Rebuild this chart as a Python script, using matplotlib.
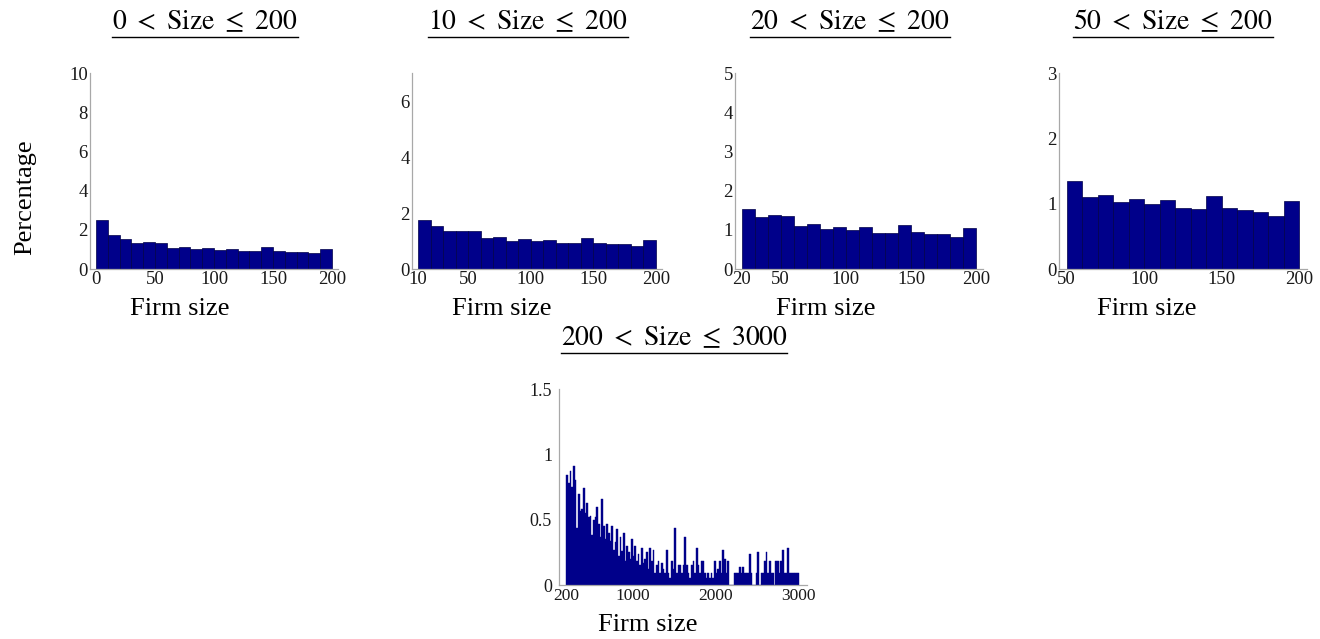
import matplotlib
matplotlib.use("Agg")
import matplotlib.pyplot as plt
from matplotlib.lines import Line2D

# ---------------- data ----------------
p1_edges = list(range(0, 200, 10))
p1_vals = [2.52, 1.73, 1.51, 1.33, 1.38, 1.33, 1.09, 1.12, 1.00, 1.05,
           0.97, 1.04, 0.92, 0.90, 1.11, 0.94, 0.88, 0.87, 0.80, 1.04]

p2_edges = list(range(10, 200, 10))
p2_vals = [1.74, 1.54, 1.34, 1.36, 1.35, 1.09, 1.15, 1.01, 1.07, 0.99,
           1.05, 0.94, 0.93, 1.11, 0.94, 0.91, 0.89, 0.82, 1.04]

p3_edges = list(range(20, 200, 10))
p3_vals = [1.54, 1.33, 1.37, 1.36, 1.09, 1.14, 1.02, 1.08, 0.99, 1.07,
           0.93, 0.92, 1.12, 0.95, 0.90, 0.89, 0.82, 1.04]

p4_edges = list(range(50, 200, 10))
p4_vals = [1.35, 1.10, 1.14, 1.02, 1.07, 0.99, 1.06, 0.93, 0.92, 1.12,
           0.94, 0.90, 0.88, 0.81, 1.04]

p5_edges = list(range(200, 3000, 20))
p5_vals = [0.84, 0.78, 0.87, 0.75, 0.91, 0.80, 0.44, 0.70, 0.57, 0.58,
           0.74, 0.55, 0.63, 0.52, 0.53, 0.38, 0.50, 0.52, 0.60, 0.47,
           0.37, 0.66, 0.45, 0.35, 0.47, 0.40, 0.34, 0.45, 0.27, 0.33,
           0.43, 0.22, 0.37, 0.26, 0.40, 0.18, 0.30, 0.25, 0.20, 0.35,
           0.22, 0.30, 0.18, 0.24, 0.15, 0.28, 0.17, 0.20, 0.25, 0.12,
           0.28, 0.18, 0.27, 0.09, 0.15, 0.18, 0.09, 0.17, 0.12, 0.09,
           0.27, 0.09, 0.05, 0.18, 0.12, 0.44, 0.09, 0.15, 0.15, 0.09,
           0.15, 0.37, 0.15, 0.09, 0.05, 0.15, 0.18, 0.09, 0.28, 0.15,
           0.09, 0.18, 0.18, 0.09, 0.05, 0.09, 0.05, 0.09, 0.05, 0.18,
           0.09, 0.12, 0.18, 0.09, 0.27, 0.20, 0.09, 0.18, 0.00, 0.00,
           0.00, 0.09, 0.09, 0.09, 0.14, 0.09, 0.14, 0.09, 0.09, 0.09,
           0.24, 0.09, 0.00, 0.00, 0.09, 0.25, 0.00, 0.09, 0.09, 0.18,
           0.25, 0.09, 0.18, 0.09, 0.09, 0.00, 0.18, 0.18, 0.09, 0.18,
           0.27, 0.09, 0.09, 0.28, 0.09, 0.09, 0.09, 0.09, 0.09, 0.09]

titles = [r"$0\ <\ \mathrm{Size}\ \leq\ 200$", r"$10\ <\ \mathrm{Size}\ \leq\ 200$",
          r"$20\ <\ \mathrm{Size}\ \leq\ 200$", r"$50\ <\ \mathrm{Size}\ \leq\ 200$",
          r"$200\ <\ \mathrm{Size}\ \leq\ 3000$"]
xticks = [[0, 50, 100, 150, 200], [10, 50, 100, 150, 200],
          [20, 50, 100, 150, 200], [50, 100, 150, 200],
          [200, 1000, 2000, 3000]]
yticks = [[0, 2, 4, 6, 8, 10], [0, 2, 4, 6], [0, 1, 2, 3, 4, 5],
          [0, 1, 2, 3], [0, 0.5, 1, 1.5]]
ylims = [10, 7, 5, 3, 1.5]
xlims = [(-5, 205), (5, 205), (15, 205), (45, 205), (110, 3100)]
bin_widths = [10, 10, 10, 10, 20]
xlabel = "Firm size"
ylabel = "Percentage"

# ---------------- layout ----------------
W, H = 1320, 639
plt.rcParams["mathtext.fontset"] = "stix"
plt.rcParams["font.family"] = ["Liberation Serif", "DejaVu Serif"]
fig = plt.figure(figsize=(W / 100, H / 100), dpi=100)

# axes boxes in pixels: left, right, top, bottom
boxes = [(90, 338, 73, 269), (412, 662, 73, 269), (735, 983, 73, 269),
         (1059, 1307, 73, 269), (559, 807, 389, 585)]
title_pos = [(205, 29.5), (528, 29.5), (850, 29.5), (1173, 29.5), (674, 345.5)]
xlabel_pos = [(180, 309), (502, 309), (826, 309), (1147, 309), (648, 625)]

edges_all = [p1_edges, p2_edges, p3_edges, p4_edges, p5_edges]
vals_all = [p1_vals, p2_vals, p3_vals, p4_vals, p5_vals]

bar_color = "#00008a"
spine_color = "#a8a8a8"
title_texts = []
for i in range(5):
    l, r, t, b = boxes[i]
    ax = fig.add_axes([l / W, 1 - b / H, (r - l) / W, (b - t) / H])
    if i < 4:
        ax.bar(edges_all[i], vals_all[i], width=bin_widths[i], align="edge",
               color=bar_color, edgecolor="#000048", linewidth=0.5)
    else:
        ax.bar(edges_all[i], vals_all[i], width=bin_widths[i], align="edge",
               color=bar_color, edgecolor=bar_color, linewidth=0.3)
    ax.set_xlim(*xlims[i])
    ax.set_ylim(0, ylims[i])
    ax.set_xticks(xticks[i])
    ax.set_yticks(yticks[i])
    ax.set_yticklabels(["%g" % v for v in yticks[i]])
    for s in ["top", "right"]:
        ax.spines[s].set_visible(False)
    for s in ["left", "bottom"]:
        ax.spines[s].set_color(spine_color)
        ax.spines[s].set_linewidth(0.9)
    ax.tick_params(length=0, labelsize=13.5, colors="#1a1a1a", pad=1.5)
    if i == 4:
        ax.tick_params(axis="x", labelsize=12.5, pad=2)
        ax.tick_params(axis="y", labelsize=13, pad=5)
    ax.patch.set_alpha(0)

    tx, ty = title_pos[i]
    tt = fig.text(tx / W, 1 - ty / H, titles[i], ha="center", va="baseline",
                  fontsize=20)
    title_texts.append(tt)
    lx, ly = xlabel_pos[i]
    fig.text(lx / W, 1 - ly / H, xlabel, ha="center", va="center", fontsize=19)

fig.text(25 / W, 1 - 197 / H, ylabel, ha="center", va="center",
         rotation=90, fontsize=19)

# underline titles
fig.canvas.draw()
rend = fig.canvas.get_renderer()
for i, tt in enumerate(title_texts):
    bb = tt.get_window_extent(renderer=rend)
    uy = title_pos[i][1] + 7.5
    fig.add_artist(Line2D([bb.x0 / W, bb.x1 / W], [1 - uy / H, 1 - uy / H],
                          transform=fig.transFigure, color="black", lw=1.0))

fig.savefig("out.png", dpi=100)
